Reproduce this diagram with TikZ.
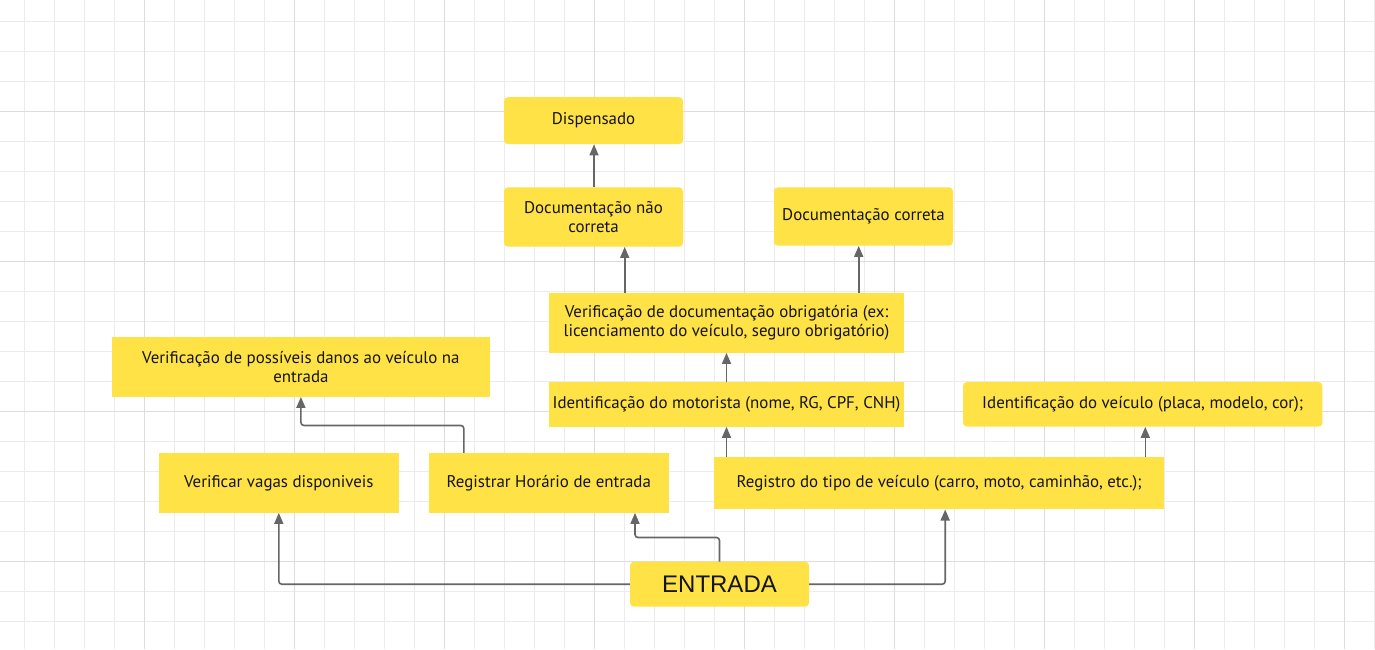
\documentclass[tikz,border=0pt]{standalone}
\usepackage{fontspec}
\setmainfont{PT Sans}
\newfontfamily\arialfont{Liberation Sans}
\usetikzlibrary{arrows.meta,calc}
\definecolor{boxyellow}{RGB}{255,226,69}
\definecolor{linegray}{RGB}{102,102,102}
\definecolor{gridminor}{RGB}{236,236,236}
\definecolor{gridmajor}{RGB}{221,221,221}
\definecolor{textdark}{RGB}{20,20,20}
\tikzset{
  box/.style={fill=boxyellow, draw=none, inner sep=0pt, align=center, text=textdark,
    font=\fontsize{16.9}{19.5}\selectfont},
  rbox/.style={box, rounded corners=4pt},
  conn/.style={draw=linegray, line width=1.6pt, rounded corners=3pt,
    -{Triangle[length=11pt,width=9pt]}},
}
\begin{document}
\begin{tikzpicture}[x=1pt,y=-1pt]
\useasboundingbox (0,0) rectangle (1375,649);
\fill[white] (0,0) rectangle (1375,649);
% grid
\foreach \k in {0,...,45} {
  \pgfmathsetmacro{\gx}{24+30*\k}
  \draw[gridminor, line width=1pt] (\gx,0) -- (\gx,649);
}
\foreach \k in {0,...,20} {
  \pgfmathsetmacro{\gy}{21+30*\k}
  \draw[gridminor, line width=1pt] (0,\gy) -- (1375,\gy);
}
\foreach \gx in {144,294,...,1344} {
  \draw[gridmajor, line width=1pt] (\gx,0) -- (\gx,649);
}
\foreach \gy in {111,261,411,561} {
  \draw[gridmajor, line width=1pt] (0,\gy) -- (1375,\gy);
}
% boxes
\node[rbox, minimum width=179pt, minimum height=47pt] (disp) at (593.5,120.7) {Dispensado};
\node[rbox, minimum width=179pt, minimum height=59.4pt] (naocorreta) at (593.5,217) {Documentação não\\correta};
\node[rbox, minimum width=179pt, minimum height=58.4pt] (correta) at (863.5,216.5) {Documentação correta};
\node[box, minimum width=355pt, minimum height=60pt] (verifdoc) at (726.5,322.7) {Verificação de documentação obrigatória (ex:\\licenciamento do veículo, seguro obrigatório)};
\node[box, minimum width=355pt, minimum height=44.7pt] (motorista) at (726.5,404.3) {Identificação do motorista (nome, RG, CPF, CNH)};
\node[rbox, minimum width=359.4pt, minimum height=44.7pt] (veiculo) at (1142.7,404.3) {Identificação do veículo (placa, modelo, cor);};
\node[box, minimum width=378.2pt, minimum height=59.4pt] (danos) at (300.9,367) {Verificação de possíveis danos ao veículo na\\entrada};
\node[box, minimum width=239.6pt, minimum height=59.7pt] (vagas) at (278.8,482.8) {Verificar vagas disponiveis};
\node[box, minimum width=239.6pt, minimum height=59.7pt] (horario) at (548.8,482.8) {Registrar Horário de entrada};
\node[box, minimum width=449.7pt, minimum height=52pt] (tipo) at (939.2,483.3) {Registro do tipo de veículo (carro, moto, caminhão, etc.);};
\node[rbox, minimum width=179pt, minimum height=45pt, font=\arialfont\fontsize{24}{28}\selectfont] (entrada) at (719.5,584.2) {ENTRADA};
% connectors
\draw[conn] (entrada.west) -| (vagas.south);
\draw[conn] (entrada.east) -| ([xshift=6pt]tipo.south);
\draw[conn] (entrada.north) -- ($(entrada.north)+(0,-24)$) -| ([xshift=86.2pt]horario.south);
\draw[conn] ([xshift=-85pt]horario.north) -- ($(horario.north)+(-85,-27.3)$) -| (danos.south);
\draw[conn] (motorista.south |- tipo.north) -- (motorista.south);
\draw[conn] ([xshift=2.6pt]veiculo.south |- tipo.north) -- ([xshift=2.6pt]veiculo.south);
\draw[conn] (motorista.north) -- (verifdoc.south);
\draw[conn] ([xshift=31.2pt]naocorreta.south |- verifdoc.north) -- ([xshift=31.2pt]naocorreta.south);
\draw[conn] ([xshift=-4.8pt]correta.south |- verifdoc.north) -- ([xshift=-4.8pt]correta.south);
\draw[conn] ([xshift=0.5pt]disp.south |- naocorreta.north) -- ([xshift=0.5pt]disp.south);
\end{tikzpicture}
\end{document}
